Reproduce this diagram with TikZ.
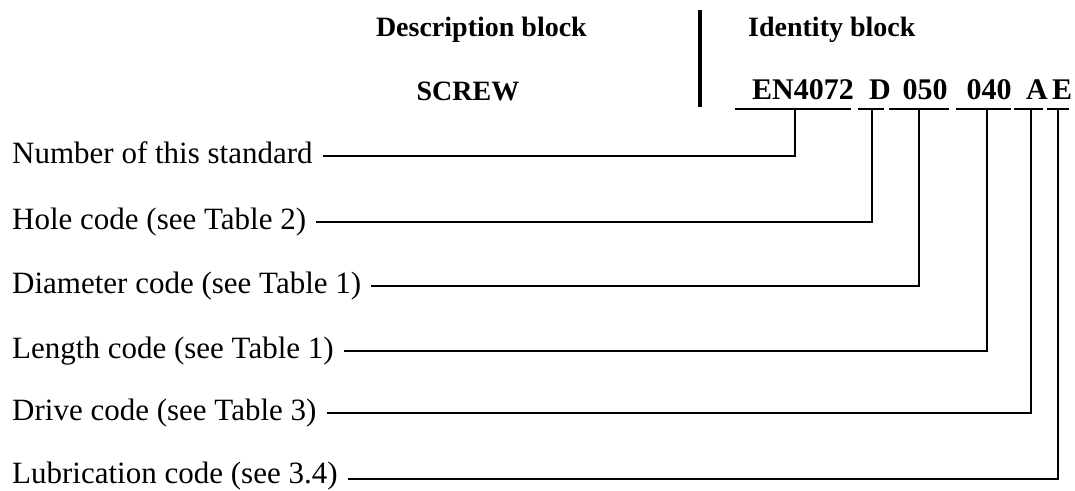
\documentclass[tikz,border=0pt]{standalone}
\usepackage{fontspec}
\setmainfont{Liberation Serif}
\begin{document}
\begin{tikzpicture}[x=1pt,y=-1pt,
  lab/.style={anchor=base west,inner sep=0pt,font=\fontsize{31}{37}\selectfont},
  hdr/.style={inner sep=0pt,font=\fontsize{28}{34}\selectfont\bfseries},
  codepart/.style={anchor=base,inner sep=0pt,font=\fontsize{30}{36}\selectfont\bfseries},
  ln/.style={line width=1.3pt,line cap=rect},
  conn/.style={line width=1.3pt},
]
\useasboundingbox (0,0) rectangle (1075,490);
% headers
\node[hdr,anchor=base east] (desc) at (587,36) {Description block};
\node[hdr,anchor=base west] (ident) at (748,36) {Identity block};
\node[hdr,anchor=base] (screw) at (468,100) {SCREW};
\coordinate (bartop) at (700,10);
\coordinate (barbot) at (700,107);
\draw[line width=4pt] (bartop) -- (barbot);
% code parts
\node[codepart] (c1) at (803,99) {EN4072};
\node[codepart] (c2) at (880,99) {D};
\node[codepart] (c3) at (925,99) {050};
\node[codepart] (c4) at (989,99) {040};
\node[codepart] (c5) at (1037,99) {A};
\node[codepart] (c6) at (1062,99) {E};
% underlines
\draw[ln] (736,109) -- (850,109);
\draw[ln] (859,109) -- (883,109);
\draw[ln] (890,109) -- (948,109);
\draw[ln] (957,109) -- (1010,109);
\draw[ln] (1015,109) -- (1042,109);
\draw[ln] (1048,109) -- (1068,109);
\coordinate (u1) at (795,109);
\coordinate (u2) at (872,109);
\coordinate (u3) at (919,109);
\coordinate (u4) at (987,109);
\coordinate (u5) at (1031,109);
\coordinate (u6) at (1058,109);
% labels
\node[lab] (l1) at (12,163) {Number of this standard};
\node[lab] (l2) at (12,229) {Hole code (see Table 2)};
\node[lab] (l3) at (12,293) {Diameter code (see Table 1)};
\node[lab] (l4) at (12,358) {Length code (see Table 1)};
\node[lab] (l5) at (12,420) {Drive code (see Table 3)};
\node[lab] (l6) at (12,483) {Lubrication code (see 3.4)};
% connectors
\foreach \i in {1,...,5}
  \draw[conn] ([shift={(10pt,7pt)}]l\i.base east) -| (u\i);
\draw[conn] ([shift={(10pt,4pt)}]l6.base east) -| (u6);
\end{tikzpicture}
\end{document}
